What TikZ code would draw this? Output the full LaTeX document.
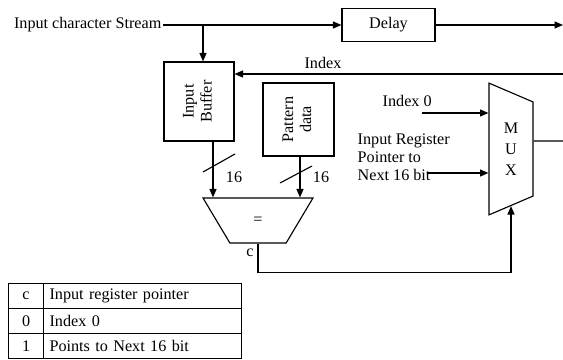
\documentclass[tikz,border=0pt]{standalone}
\usepackage{fontspec}
\setmainfont{Liberation Serif}
\usetikzlibrary{arrows.meta, positioning, shapes.geometric, calc}

\begin{document}
\begin{tikzpicture}[
    x=0.025cm, y=-0.025cm,
    font=\fontsize{11.5}{12.8}\selectfont,
    unit/.style={rectangle, draw, line width=0.8pt, inner sep=2pt},
    gate/.style={trapezium, draw, line width=0.8pt, trapezium stretches=true, inner sep=0pt, align=center},
    cell/.style={rectangle, draw, line width=0.8pt, minimum height=0.625cm, anchor=north west, inner sep=0pt},
    cellb/.style={cell, text width=4.65cm, align=left, inner xsep=0.15cm},
    arr/.style={-{Triangle[length=6pt, width=5pt]}, line width=0.8pt},
    wire/.style={line width=0.8pt},
    lbl/.style={inner sep=1pt}
]
\useasboundingbox (0,0) rectangle (563,360);

% Top row: input stream and delay
\node[lbl, anchor=east] (ics) at (163,25) {Input character Stream};
\node[unit, minimum width=2.325cm, minimum height=0.825cm] (delay) at (388.5,25) {Delay};
\coordinate (tap) at (203,25);
\coordinate (dout) at (563,25);

% Storage blocks
\node[unit, minimum width=1.75cm, minimum height=1.975cm] (buf) at (199,101.5)
    {\rotatebox{90}{\begin{tabular}{@{}c@{}}Input\\Buffer\end{tabular}}};
\node[unit, minimum width=1.775cm, minimum height=1.825cm] (pat) at (298.5,119.5)
    {\rotatebox{90}{\begin{tabular}{@{}c@{}}Pattern\\data\end{tabular}}};

% Comparator and multiplexer
\node[gate, shape border rotate=180, trapezium angle=59.5, minimum width=2.75cm, minimum height=1.125cm] (cmp) at (258,220.5) {=};
\node[gate, shape border rotate=270, trapezium angle=54, minimum width=3.3cm, minimum height=1.1cm] (mux) at (511,149) {M\\[2pt]U\\[2pt]X};

% Index feedback
\coordinate (idxin) at (563,74);
\node[lbl] (idx) at (323,63) {Index};

% Arrows
\draw[arr] (ics.east) -- (delay.west);
\draw[arr] (delay.east) -- (dout);
\draw[arr] (tap) -- (tap |- buf.north);
\draw[arr] (idxin) -- (idxin -| buf.east);

\coordinate (bufout) at ($(buf.south)+(14,0)$);
\coordinate (patout) at ($(pat.south)+(1.5,0)$);
\draw[arr] (bufout) -- (bufout |- cmp.north);
\draw[arr] (patout) -- (patout |- cmp.north);

% Bus width marks
\draw[wire] (203,172) -- (235,154);
\draw[wire] (280,183) -- (312,166);
\node[lbl] (w1) at (234,177) {16};
\node[lbl] (w2) at (321,177) {16};

% Select line
\draw[arr] (cmp.south) -- ++(0,29) -| (mux);
\node[lbl] (csel) at (250,253) {c};

% Multiplexer inputs and output
\node[lbl, anchor=west] (i0) at (381,101) {Index 0};
\node[lbl, anchor=north west, align=left] (irp) at (356,132) {Input Register\\Pointer to\\Next 16 bit};
\coordinate (in0) at (422,113);
\coordinate (in1) at (427,173);
\draw[arr] (in0) -- (in0 -| mux.west);
\draw[arr] (in1) -- (in1 -| mux.west);
\coordinate (muxout) at ($(mux.east)+(0,-8)$);
\coordinate (mend) at (563,141);
\draw[wire] (muxout) -- (mend);

% Legend table
\node[cell, minimum width=0.875cm] (ta1) at (8,283) {c};
\node[cellb, minimum height=0.625cm] (tb1) at (43,283) {Input register pointer};
\node[cell, minimum width=0.875cm] (ta2) at (8,308) {0};
\node[cellb, minimum height=0.625cm] (tb2) at (43,308) {Index 0};
\node[cell, minimum width=0.875cm] (ta3) at (8,333) {1};
\node[cellb, minimum height=0.625cm] (tb3) at (43,333) {Points to Next 16 bit};

\end{tikzpicture}
\end{document}
